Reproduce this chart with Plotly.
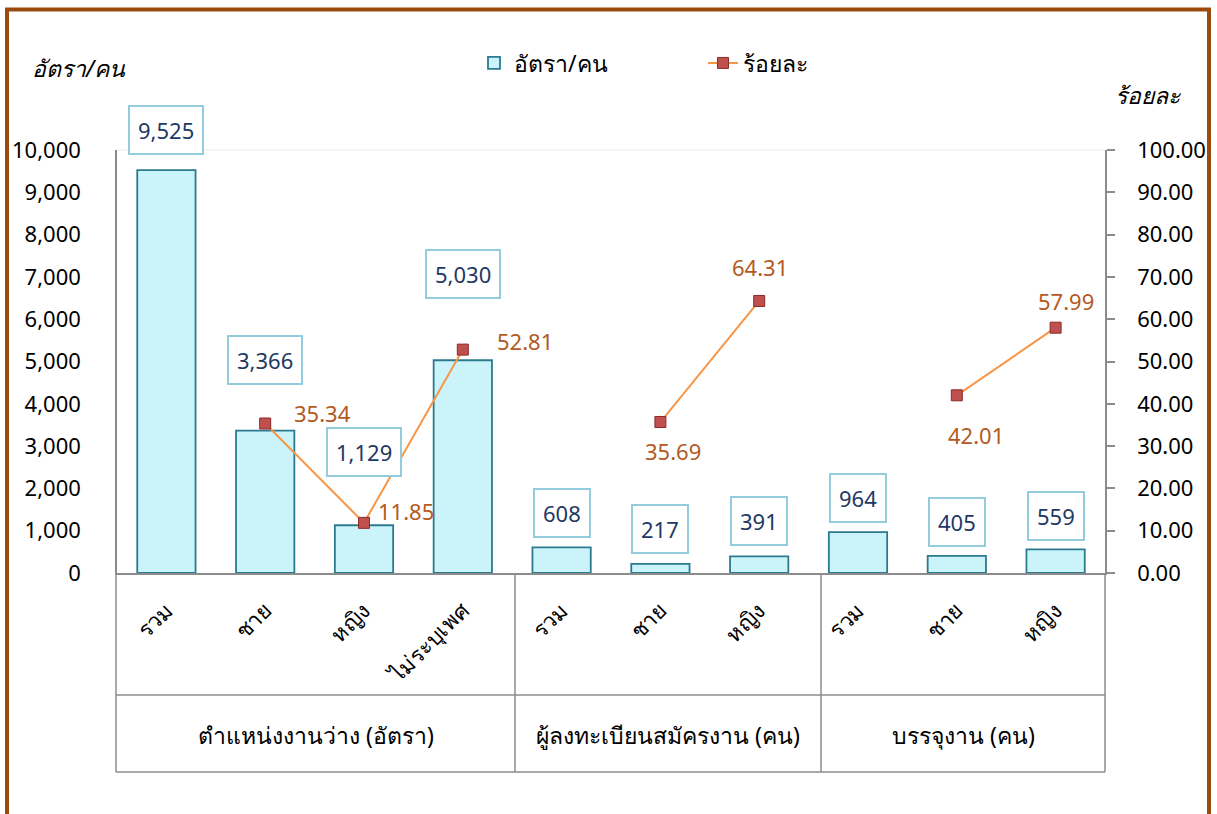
import plotly.graph_objects as go

# ---------------- data ----------------
groups = ["ตำแหน่งงานว่าง (อัตรา)", "ผู้ลงทะเบียนสมัครงาน (คน)", "บรรจุงาน (คน)"]
group_sizes = [4, 3, 3]
sub_labels = ["รวม", "ชาย", "หญิง", "ไม่ระบุเพศ",
              "รวม", "ชาย", "หญิง",
              "รวม", "ชาย", "หญิง"]
counts = [9525, 3366, 1129, 5030, 608, 217, 391, 964, 405, 559]
percents = [None, 35.34, 11.85, 52.81, None, 35.69, 64.31, None, 42.01, 57.99]
left_ticks = [0, 1000, 2000, 3000, 4000, 5000, 6000, 7000, 8000, 9000, 10000]
right_ticks = [0, 10, 20, 30, 40, 50, 60, 70, 80, 90, 100]

# ---------------- layout constants ----------------
W, H = 1217, 814
L, R, T, B = 117, 1105, 150, 573   # plot area in px
FONT = "Noto Sans, Tahoma, sans-serif"

# label offsets (px) for the boxed bar labels (upwards from bar top)
bar_label_shift = [40, 71, 73, 86, 34, 35, 35, 34, 34, 33]
# label offsets (px) for percent labels (dx, dy up)
pct_label_shift = [None, (57, 11), (42, 12), (62, 9), None, (13, -29), (1, 34), None, (19, -40), (10, 27)]

def px_x(x):
    return (x - L) / (R - L)

def px_y(y):
    return (B - y) / (B - T)

xs = list(range(len(counts)))

fig = go.Figure()
fig.add_trace(go.Bar(
    x=xs, y=counts, name="อัตรา/คน", width=0.59,
    marker=dict(color="#CBF4FA", line=dict(color="#2C7A90", width=1.8)),
    yaxis="y",
))
fig.add_trace(go.Scatter(
    x=xs, y=percents, name="ร้อยละ", mode="lines+markers",
    line=dict(color="#F79646", width=2),
    marker=dict(symbol="square", size=11, color="#C0504D", line=dict(color="#8C2B28", width=1)),
    yaxis="y2", connectgaps=False,
))

annotations = []
for i, v in enumerate(counts):
    annotations.append(dict(
        x=i, y=v, xref="x", yref="y", text=f"{v:,}", showarrow=False,
        yshift=bar_label_shift[i], font=dict(family=FONT, size=22, color="#1F3864"),
        bordercolor="#93CDDD", borderwidth=2, borderpad=8, bgcolor="white",
    ))
for i, v in enumerate(percents):
    if v is None:
        continue
    dx, dy = pct_label_shift[i]
    annotations.append(dict(
        x=i, y=v, xref="x", yref="y2", text=f"{v:.2f}", showarrow=False,
        xshift=dx, yshift=dy, font=dict(family=FONT, size=22, color="#B35A1F"),
    ))

# axis titles
annotations.append(dict(x=px_x(30), y=px_y(68), xref="paper", yref="paper", text="<i>อัตรา/คน</i>",
                        showarrow=False, xanchor="left", yanchor="middle",
                        font=dict(family=FONT, size=23, color="#000000")))
annotations.append(dict(x=px_x(1183), y=px_y(95), xref="paper", yref="paper", text="<i>ร้อยละ</i>",
                        showarrow=False, xanchor="right", yanchor="middle",
                        font=dict(family=FONT, size=23, color="#000000")))

# group labels in the table
div_px = [116, 515, 821, 1105]
for gi, g in enumerate(groups):
    cx = (div_px[gi] + div_px[gi + 1]) / 2
    annotations.append(dict(x=px_x(cx), y=px_y(735), xref="paper", yref="paper", text=g,
                            showarrow=False, xanchor="center", yanchor="middle",
                            font=dict(family=FONT, size=23, color="#000000")))

shapes = []
grid_col = "#8C8C8C"
for xp in div_px:
    shapes.append(dict(type="line", xref="paper", yref="paper", x0=px_x(xp), x1=px_x(xp),
                       y0=px_y(573), y1=px_y(772), line=dict(color=grid_col, width=1.5)))
for yp in [695, 772]:
    shapes.append(dict(type="line", xref="paper", yref="paper", x0=px_x(116), x1=px_x(1105),
                       y0=px_y(yp), y1=px_y(yp), line=dict(color=grid_col, width=1.5)))
# faint top line of plot area
shapes.append(dict(type="line", xref="paper", yref="paper", x0=0, x1=1, y0=1, y1=1,
                   line=dict(color="#EBEBEB", width=1)))
# brown outer frame
shapes.append(dict(type="rect", xref="paper", yref="paper", x0=px_x(7), x1=px_x(1209),
                   y0=px_y(830), y1=px_y(9.5), line=dict(color="#9C4A0B", width=4),
                   fillcolor="rgba(0,0,0,0)", layer="above"))

fig.update_layout(
    width=W, height=H,
    margin=dict(l=L, r=W - R, t=T, b=H - B, autoexpand=False),
    paper_bgcolor="white", plot_bgcolor="white",
    font=dict(family=FONT, size=22, color="#000000"),
    showlegend=True,
    legend=dict(orientation="h", x=px_x(474), y=px_y(63), xanchor="left", yanchor="middle",
                font=dict(family=FONT, size=23), entrywidth=184, entrywidthmode="pixels",
                bgcolor="rgba(0,0,0,0)"),
    xaxis=dict(range=[-0.5, 9.5], tickmode="array", tickvals=xs, ticktext=sub_labels,
               tickangle=-45, showgrid=False, zeroline=False, showline=True,
               linecolor=grid_col, linewidth=1.5, ticks="", ticklabelstandoff=14,
               tickfont=dict(family=FONT, size=22, color="#000000")),
    yaxis=dict(range=[0, 10000], tickmode="array", tickvals=left_ticks,
               ticktext=[f"{v:,}" for v in left_ticks], showgrid=False, zeroline=False,
               showline=True, linecolor=grid_col, linewidth=1.5, ticks="",
               ticklabelstandoff=30, tickfont=dict(family=FONT, size=22, color="#000000")),
    yaxis2=dict(range=[0, 100], overlaying="y", side="right", tickmode="array",
                tickvals=right_ticks, ticktext=[f"{v:.2f}" for v in right_ticks],
                showgrid=False, zeroline=False, showline=True, linecolor=grid_col, linewidth=1.5,
                ticks="outside", ticklen=8, tickcolor=grid_col, tickwidth=1.5,
                ticklabelstandoff=18, tickfont=dict(family=FONT, size=22, color="#000000")),
    annotations=annotations,
    shapes=shapes,
)

fig.write_html("out.html", config={"displayModeBar": False},
               post_script="document.body.style.margin='0';document.body.style.overflow='hidden';")
